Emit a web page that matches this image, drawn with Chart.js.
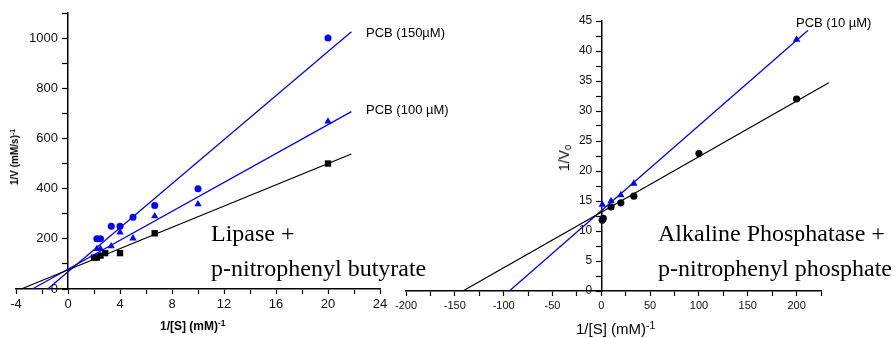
<!DOCTYPE html>
<html>
<head>
<meta charset="utf-8">
<script src="https://cdn.jsdelivr.net/npm/chart.js@4.4.0/dist/chart.umd.min.js"></script>
<style>
  body { margin: 0; background: #fff; }
  #wrap { position: relative; width: 895px; height: 338px; overflow: hidden; font-family: 'Liberation Sans', Arial, sans-serif; }
  canvas { position: absolute; top: 0; }
  .txt { position: absolute; white-space: nowrap; color: #000; line-height: 1; }
  .serif { font-family: 'Liberation Serif', 'Times New Roman', serif; font-size: 24px; }
  .pcb { font-size: 13px; }
  sup { font-size: 70%; vertical-align: 0.45em; line-height: 0; }
  sub { font-size: 70%; vertical-align: -0.2em; line-height: 0; }
  .rot { transform: translate(-50%, -50%) rotate(-90deg); }
</style>
</head>
<body>
<div id="wrap">
  <canvas id="lipaseChart" width="392" height="338" style="left:0"></canvas>
  <canvas id="apChart" width="503" height="338" style="left:392px"></canvas>

  <!-- textos del panel izquierdo -->
  <div class="txt rot" style="left:15px; top:157px; font-size:10px; font-weight:bold;">1/V (mM/s)<sup>-1</sup></div>
  <div class="txt" style="left:160px; top:320px; font-size:12px; font-weight:bold;">1/[S] (mM)<sup>-1</sup></div>
  <div class="txt pcb" style="left:366px; top:26px;">PCB (150µM)</div>
  <div class="txt pcb" style="left:366px; top:103px;">PCB (100 µM)</div>
  <div class="txt serif" style="left:211px; top:221px;">Lipase +</div>
  <div class="txt serif" style="left:211px; top:256px;">p-nitrophenyl butyrate</div>

  <!-- textos del panel derecho -->
  <div class="txt rot" style="left:564px; top:158px; font-size:14px;">1/V<sub>0</sub></div>
  <div class="txt" style="left:576px; top:321px; font-size:15px;">1/[S] (mM)<sup>-1</sup></div>
  <div class="txt pcb" style="left:796px; top:16px;">PCB (10 µM)</div>
  <div class="txt serif" style="left:658px; top:221px;">Alkaline Phosphatase +</div>
  <div class="txt serif" style="left:658px; top:256px;">p-nitrophenyl phosphate</div>
</div>

<script>
// ================================================================
// DATOS - Lipasa + p-nitrofenil butirato
// ================================================================
const lipaseSControl = [2, 2.22, 2.5, 2.86, 4, 6.67, 20];
const lipaseVControl = [125, 125, 133, 143, 143, 222, 500];
const lipaseSPcb100 = [2.22, 2.5, 3.33, 4, 5, 6.67, 10, 20];
const lipaseVPcb100 = [160, 160, 171, 226, 202, 290, 338, 668];
const lipaseSPcb150 = [2.22, 2.5, 3.33, 4, 5, 6.67, 10, 20];
const lipaseVPcb150 = [200, 200, 250, 250, 286, 333, 400, 1000];

// rectas de ajuste (extremos)
const lipaseFitControlX = [-3.6, 21.8];
const lipaseFitControlY = [0, 538];
const lipaseFit100X = [-2.74, 21.8];
const lipaseFit100Y = [0, 707];
const lipaseFit150X = [-1.56, 21.8];
const lipaseFit150Y = [0, 1025];

const lipaseXLabels = [-4, 0, 4, 8, 12, 16, 20, 24];
const lipaseYLabels = [0, 200, 400, 600, 800, 1000];

// ================================================================
// DATOS - Fosfatasa alcalina + p-nitrofenil fosfato
// ================================================================
const apSControl = [1, 2, 10, 20, 33.3, 100, 200];
const apVControl = [11.8, 12.1, 14.0, 14.7, 15.8, 22.9, 32.0];
const apSPcb10 = [1, 10, 20, 33.3, 200];
const apVPcb10 = [14.4, 15.0, 16.0, 17.9, 41.9];

const apFitControlX = [-141.8, 233];
const apFitControlY = [0, 34.7];
const apFitPcb10X = [-94.2, 211.5];
const apFitPcb10Y = [0, 43.4];

const apXLabels = [-200, -150, -100, -50, 0, 50, 100, 150, 200];
const apYLabels = [0, 5, 10, 15, 20, 25, 30, 35, 40, 45];

// ================================================================
// UTILIDADES
// ================================================================
const BLUE = '#0000ff';
const BLACK = '#000000';
const FONT = "'Liberation Sans', Arial, sans-serif";

const toPoints = (xs, ys) => xs.map((x, i) => ({ x, y: ys[i] }));

function scatterSet(xs, ys, color, style, radius) {
    return {
        type: 'scatter',
        data: toPoints(xs, ys),
        pointStyle: style,
        pointRadius: radius,
        pointBackgroundColor: color,
        pointBorderColor: color,
        pointBorderWidth: 0,
        showLine: false
    };
}

function fitSet(xs, ys, color) {
    return {
        type: 'line',
        data: toPoints(xs, ys),
        borderColor: color,
        borderWidth: 1.3,
        pointRadius: 0,
        fill: false,
        clip: false
    };
}

function axisOpts(min, max, step, labels, fontSize, pad, extra) {
    return Object.assign({
        type: 'linear',
        min, max,
        grid: { drawOnChartArea: false, drawTicks: true, tickLength: 5, color: BLACK, tickWidth: 1.2 },
        border: { color: BLACK, width: 1.5 },
        ticks: {
            stepSize: step,
            autoSkip: false,
            maxRotation: 0,
            padding: pad,
            color: '#111',
            font: { family: FONT, size: fontSize },
            callback: v => labels.includes(Math.round(v * 100) / 100) ? String(v) : ''
        }
    }, extra);
}

// las etiquetas del eje Y (que cruza en x = 0) se pintan aparte,
// a la izquierda de las marcas
const yLabelPlugin = {
    id: 'yLabels',
    afterDraw(chart, args, opts) {
        const { ctx, scales: { x, y } } = chart;
        const x0 = x.getPixelForValue(0) - opts.gap;
        ctx.save();
        ctx.font = `${opts.size}px ${FONT}`;
        ctx.fillStyle = '#111';
        ctx.textAlign = 'right';
        ctx.textBaseline = 'middle';
        opts.values.forEach(v => ctx.fillText(String(v), x0, y.getPixelForValue(v)));
        ctx.restore();
    }
};

function baseOptions(padding, xScale, yScale, yLabels) {
    return {
        responsive: false,
        animation: false,
        events: [],
        layout: { padding },
        plugins: { legend: { display: false }, tooltip: { enabled: false }, yLabels },
        scales: { x: xScale, y: yScale }
    };
}

// ================================================================
// GRÁFICO IZQUIERDO
// ================================================================
new Chart(document.getElementById('lipaseChart'), {
    data: {
        datasets: [
            fitSet(lipaseFitControlX, lipaseFitControlY, BLACK),
            fitSet(lipaseFit100X, lipaseFit100Y, BLUE),
            fitSet(lipaseFit150X, lipaseFit150Y, BLUE),
            scatterSet(lipaseSControl, lipaseVControl, BLACK, 'rect', 4.5),
            scatterSet(lipaseSPcb100, lipaseVPcb100, BLUE, 'triangle', 4.2),
            scatterSet(lipaseSPcb150, lipaseVPcb150, BLUE, 'circle', 3.5)
        ]
    },
    options: baseOptions(
        { left: 16, right: 12, top: 13, bottom: 19 },
        axisOpts(-4, 24, 2, lipaseXLabels, 13, 3, { afterFit: s => { s.height = 30; } }),
        axisOpts(0, 1100, 100, [], 13, 5, { position: { x: 0 } }),
        { values: lipaseYLabels, size: 13, gap: 10 }
    ),
    plugins: [yLabelPlugin]
});

// ================================================================
// GRÁFICO DERECHO
// ================================================================
new Chart(document.getElementById('apChart'), {
    data: {
        datasets: [
            fitSet(apFitControlX, apFitControlY, BLACK),
            fitSet(apFitPcb10X, apFitPcb10Y, BLUE),
            scatterSet(apSControl, apVControl, BLACK, 'circle', 3.6),
            scatterSet(apSPcb10, apVPcb10, BLUE, 'triangle', 4.3)
        ]
    },
    options: baseOptions(
        { left: 12, right: 74, top: 21, bottom: 17 },
        axisOpts(-200, 225, 25, apXLabels, 11, 3, { afterFit: s => { s.height = 30; } }),
        axisOpts(0, 45, 2.5, [], 12, 4, { position: { x: 0 } }),
        { values: apYLabels, size: 12, gap: 9 }
    ),
    plugins: [yLabelPlugin]
});
</script>
</body>
</html>
